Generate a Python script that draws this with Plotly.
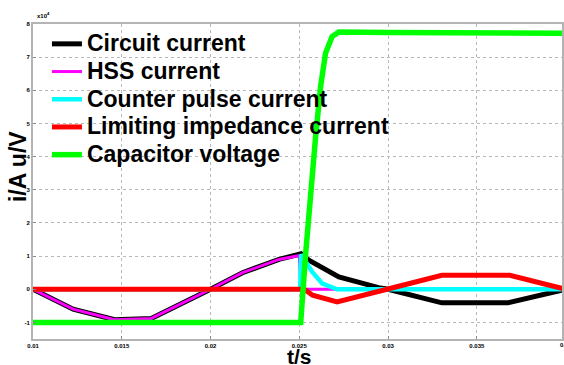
import plotly.graph_objects as go

# ---------------- data (values in units of 1e4) ----------------
t_circuit = [0.01, 0.01226, 0.0146, 0.01666, 0.0200, 0.0218, 0.02386, 0.02489,
             0.0251, 0.02554, 0.02723, 0.02947, 0.0300, 0.03303, 0.03676, 0.0400]
i_circuit = [0.0, -0.60, -0.92, -0.88, 0.0, 0.50, 0.90, 1.02,
             1.07, 0.88, 0.37, 0.05, 0.0, -0.41, -0.41, 0.0]

t_hss = [0.01, 0.01226, 0.0146, 0.01666, 0.0200, 0.0218, 0.02386, 0.02489,
         0.0250, 0.0251, 0.0400]
i_hss = [0.0, -0.60, -0.92, -0.88, 0.0, 0.50, 0.90, 1.02,
         1.02, 0.0, 0.0]

t_counter = [0.01, 0.02505, 0.0251, 0.02573, 0.0263, 0.02713, 0.0400]
i_counter = [0.0, 0.0, 1.05, 0.52, 0.17, 0.0, 0.0]

t_limit = [0.01, 0.02528, 0.02575, 0.02713, 0.02994, 0.03303, 0.03686, 0.0400]
i_limit = [0.0, 0.0, -0.18, -0.38, 0.0, 0.42, 0.42, 0.0]

t_cap = [0.01, 0.02508, 0.02536, 0.02564, 0.02592, 0.0262, 0.02648, 0.02685,
         0.02723, 0.0300, 0.0400]
u_cap = [-1.0, -1.0, 1.08, 3.09, 4.60, 6.11, 7.12, 7.62,
         7.76, 7.74, 7.72]

series_names = ["Circuit current", "HSS current", "Counter pulse current",
                "Limiting impedance current", "Capacitor voltage"]

x_ticks = [0.01, 0.015, 0.02, 0.025, 0.03, 0.035]
x_ticktext = ["0.01", "0.015", "0.02", "0.025", "0.03", "0.035"]
y_ticks = [-1, 0, 1, 2, 3, 4, 5, 6, 7, 8]
y_ticktext = ["-1", "0", "1", "2", "3", "4", "5", "6", "7", "8"]

X_MIN, X_MAX = 0.01, 0.0398
Y_MIN, Y_MAX = -1.5, 8.0

# ---------------- figure ----------------
W, H = 564, 365
ML, MR, MT, MB = 33, 0, 24, 26
PW, PH = W - ML - MR, H - MT - MB

def px_x(p):
    return (p - ML) / PW

def px_y(p):
    return (H - MB - p) / PH

styles = [
    dict(color="#000000", width=5),
    dict(color="#ff00ff", width=3),
    dict(color="#00ffff", width=4.5),
    dict(color="#ff0000", width=5),
    dict(color="#00ff00", width=5.5),
]
data = [(t_circuit, i_circuit), (t_hss, i_hss), (t_counter, i_counter),
        (t_limit, i_limit), (t_cap, u_cap)]

fig = go.Figure()
for (tx, ty), name, st in zip(data, series_names, styles):
    fig.add_trace(go.Scatter(
        x=tx, y=ty, mode="lines", line=st,
        name='<span style="font-size:23px">' + name + '</span>'))

grid = dict(showgrid=True, gridcolor="#b8b8b8", griddash="dot", gridwidth=1,
            zeroline=False, showline=True, linecolor="#b4b4b4", linewidth=2,
            mirror=True, ticks="inside", ticklen=3, tickcolor="#888888",
            tickfont=dict(family="Liberation Sans", size=6, color="#000000",
                          weight="bold"))

fig.update_layout(
    width=W, height=H,
    margin=dict(l=ML, r=MR, t=MT, b=MB),
    paper_bgcolor="white", plot_bgcolor="white",
    showlegend=True,
    legend=dict(x=px_x(47), y=px_y(25), xanchor="left", yanchor="top",
                bgcolor="rgba(0,0,0,0)", borderwidth=0,
                font=dict(family="Liberation Sans", size=19, color="#000000",
                          weight="bold"),
                itemwidth=30),
    xaxis=dict(range=[X_MIN, X_MAX], tickvals=x_ticks, ticktext=x_ticktext, **grid),
    yaxis=dict(range=[Y_MIN, Y_MAX], tickvals=y_ticks, ticktext=y_ticktext, **grid),
)

annotations = [
    dict(text="i/A u/V", textangle=-90, xref="paper", yref="paper",
         x=px_x(18), y=px_y(167), xanchor="center", yanchor="middle",
         showarrow=False,
         font=dict(family="Liberation Sans", size=23, color="#000000", weight="bold")),
    dict(text="t/s", xref="paper", yref="paper",
         x=px_x(301), y=px_y(356), xanchor="center", yanchor="middle",
         showarrow=False,
         font=dict(family="Liberation Sans", size=21, color="#000000", weight="bold")),
    dict(text="x10<sup>4</sup>", xref="paper", yref="paper",
         x=px_x(35), y=px_y(15), xanchor="left", yanchor="middle",
         showarrow=False,
         font=dict(family="Liberation Sans", size=6, color="#000000", weight="bold")),
    dict(text="0.04", xref="paper", yref="paper",
         x=(0.04 - X_MIN) / (X_MAX - X_MIN), y=px_y(345),
         xanchor="center", yanchor="middle", showarrow=False,
         font=dict(family="Liberation Sans", size=6, color="#000000", weight="bold")),
]
fig.update_layout(annotations=annotations)

fig.write_html("out.html",
               config={"displayModeBar": False},
               post_script="document.body.style.margin='0px';"
                           "document.body.style.overflow='hidden';")
